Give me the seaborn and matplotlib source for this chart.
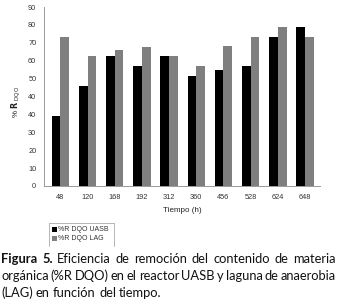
import numpy as np
import pandas as pd
import matplotlib
matplotlib.use("Agg")
import matplotlib.pyplot as plt
from matplotlib.lines import Line2D
from matplotlib.patches import Rectangle
import seaborn as sns

# ---- data (axis units; tick labels reproduce the original figure) ----
tiempo = ["48", "120", "168", "192", "312", "360", "456", "528", "624", "648"]
uasb = [39.2, 55.8, 72.4, 67.0, 72.4, 61.4, 64.7, 66.8, 83.5, 89.1]
lag = [83.5, 72.4, 75.7, 77.8, 72.4, 66.8, 78.0, 83.5, 89.1, 83.5]
series = ["%R DQO UASB", "%R DQO LAG"]
ytick_pos = [0, 10, 20, 30, 40, 50, 60, 70, 80, 90, 100]
ytick_labels = ["0", "10", "20", "30", "40", "40", "50", "60", "70", "80", "90"]
colors = ["#000000", "#7f7f7f"]

df = pd.DataFrame({
    "Tiempo": tiempo * 2,
    "valor": uasb + lag,
    "serie": [series[0]] * len(tiempo) + [series[1]] * len(tiempo),
})

sns.set_style("white")
plt.rcParams["font.family"] = ["Liberation Sans", "DejaVu Sans"]

W, H = 344, 302
fig = plt.figure(figsize=(W / 100, H / 100), dpi=100)
ax = fig.add_axes([44 / W, (H - 186) / H, (320 - 44) / W, (186 - 7) / H])

sns.barplot(data=df, x="Tiempo", y="valor", hue="serie", order=tiempo,
            hue_order=series, palette=colors, width=0.64, dodge=True,
            saturation=1, legend=False, ax=ax, edgecolor="none")

ax.set_xlim(-0.6, 9.55)
ax.set_ylim(0, 100)
ax.set_yticks(ytick_pos)
ax.set_yticklabels(ytick_labels, fontsize=5.3, color="#333333")
ax.set_xticks(np.arange(-0.5, 10, 1))
ax.set_xticklabels([""] * 11)
ax.set_xticks(np.arange(len(tiempo)), minor=True)
ax.set_xticklabels(tiempo, minor=True, fontsize=5.3, color="#333333")
ax.tick_params(axis="x", which="major", direction="inout", length=5,
               width=0.6, color="#999999")
ax.tick_params(axis="x", which="minor", length=0, pad=6)
ax.tick_params(axis="y", direction="inout", length=5, width=0.6,
               color="#999999", pad=3)
for s in ["top", "right"]:
    ax.spines[s].set_visible(False)
for s in ["left", "bottom"]:
    ax.spines[s].set_color("#999999")
    ax.spines[s].set_linewidth(0.7)

ax.set_xlabel("Tiempo (h)", fontsize=5.8, color="#222222", labelpad=4)
ax.set_ylabel(r"% $\mathbf{R}$ $_{\mathregular{DQO}}$", fontsize=5.8,
              color="#222222", labelpad=6)
ax.yaxis.set_label_coords(-0.075, 0.47)

# ---- legend (manual box like the reference) ----
def fx(px):
    return px / W

def fy(py):
    return 1 - py / H

lc = "#aaaaaa"
fig.add_artist(Line2D([fx(49), fx(49)], [fy(223), fy(246)], color=lc, lw=0.6))
fig.add_artist(Line2D([fx(49), fx(114)], [fy(223), fy(223)], color=lc, lw=0.6))
fig.add_artist(Line2D([fx(114), fx(114)], [fy(223), fy(246)], color=lc, lw=0.6))
for i, (lab, c) in enumerate(zip(series, colors)):
    yc = 229.5 + i * 8.5
    fig.add_artist(Rectangle((fx(52), fy(yc + 2.5)), fx(5), 5 / H,
                             facecolor=c, edgecolor="none"))
    fig.text(fx(58), fy(yc), lab, fontsize=5, color="#333333",
             va="center", ha="left")

# ---- caption, justified ----
cap_font = ["Lato", "DejaVu Sans"]
cap_size = 9.3
lines = [
    ([("Figura", "bold"), ("5.", "bold"), ("Eficiencia", "normal"), ("de", "normal"),
      ("remoción", "normal"), ("del", "normal"), ("contenido", "normal"),
      ("de", "normal"), ("materia", "normal")], True, 259),
    ([(w, "normal") for w in "orgánica (%R DQO) en el reactor UASB y laguna de anaerobia".split()], True, 276),
    ([(w, "normal") for w in "(LAG) en función del tiempo.".split()], False, 293),
]
fig.canvas.draw()
renderer = fig.canvas.get_renderer()
left, right = 1, 336
for words, justify, ycen in lines:
    texts = []
    widths = []
    for w, wt in words:
        t = fig.text(0, fy(ycen), w, fontsize=cap_size, family=cap_font,
                     weight=wt, color="#111111", va="center", ha="left")
        bb = t.get_window_extent(renderer=renderer)
        texts.append(t)
        widths.append(bb.width)
    space = fig.text(0, 0, "a b", fontsize=cap_size, family=cap_font)
    sp = space.get_window_extent(renderer=renderer).width
    space.remove()
    ab = fig.text(0, 0, "ab", fontsize=cap_size, family=cap_font)
    sp = sp - ab.get_window_extent(renderer=renderer).width
    ab.remove()
    if justify and len(words) > 1:
        gap = (right - left - sum(widths)) / (len(words) - 1)
    else:
        gap = sp
    x = left
    for t, wd in zip(texts, widths):
        t.set_x(fx(x))
        x += wd + gap

fig.savefig("out.png", dpi=100)
